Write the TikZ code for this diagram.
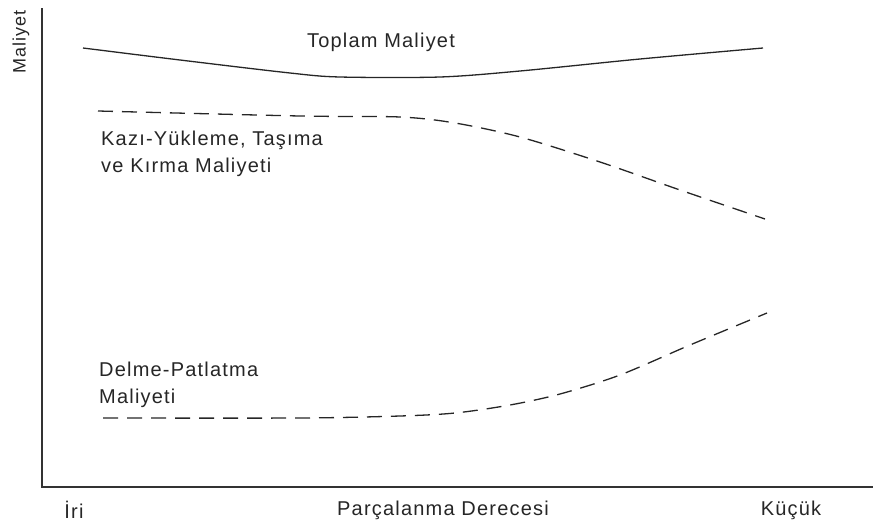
\documentclass[tikz,border=0pt]{standalone}
\usepackage{fontspec}
\setmainfont{Liberation Sans}[LetterSpace=6]
\begin{document}
\begin{tikzpicture}[x=1pt,y=-1pt,
  lbl/.style={inner sep=0pt,font=\fontsize{20}{26.5}\selectfont,text=black!85},
  axisline/.style={line width=1.6pt,black!80},
  curve/.style={line width=1.3pt,black!85},
  dcurve/.style={curve,dash pattern=on 15pt off 9pt}]
\useasboundingbox (0,0) rectangle (873,525);
\draw[axisline] (42,8) -- (42,487) -- (873,487);
\node[lbl,rotate=90,font=\fontsize{18}{22}\selectfont] (ylab) at (21,42) {Maliyet};
\node[lbl] (iri) at (74,510) {İri};
\node[lbl] (parca) at (443,510) {Parçalanma Derecesi};
\node[lbl] (kucuk) at (791,510) {Küçük};
\node[lbl] (toplam) at (381,42) {Toplam Maliyet};
\node[lbl,anchor=west,align=left] (kazi) at (101,154) {Kazı-Yükleme, Taşıma\\ve Kırma Maliyeti};
\node[lbl,anchor=west,align=left] (delme) at (99,385) {Delme-Patlatma\\Maliyeti};
\draw[curve] plot[smooth,tension=0.5] coordinates {(83,48) (180,60) (290,73) (340,77) (440,77) (520,71) (640,59) (763,48)};
\draw[dcurve] plot[smooth,tension=0.5] coordinates {(98,111) (300,116) (400,117) (455,123) (520,137) (600,162) (680,190) (765,219)};
\draw[dcurve] plot[smooth,tension=0.5] coordinates {(103,418) (300,418) (400,416) (455,413) (510,405) (560,394) (620,375) (690,345) (767,313)};
\end{tikzpicture}
\end{document}
